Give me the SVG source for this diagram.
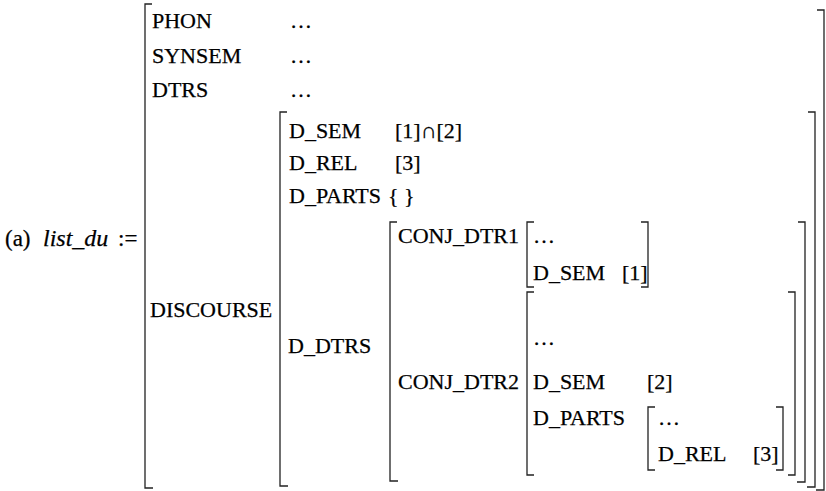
<svg xmlns="http://www.w3.org/2000/svg" width="826" height="491" viewBox="0 0 826 491">
<style>
text{font-family:"Liberation Serif","Times New Roman",serif;font-size:22px;fill:#000;stroke:#000;stroke-width:0.25}
.it{font-style:italic}
.lab{font-size:23px}
.br{fill:none;stroke:#222;stroke-width:1.3}
</style>
<rect width="826" height="491" fill="#fff"/>
<g id="brackets">
<path class="br" d="M152,4H145V488H153"/>
<path class="br" d="M817,10H824V490H816"/>
<path class="br" d="M287,112H280V486H288"/>
<path class="br" d="M808,112H815V487H807"/>
<path class="br" d="M397,222H390V481H398"/>
<path class="br" d="M798,222H805V482H797"/>
<path class="br" d="M534,222H527V287H534"/>
<path class="br" d="M641,222H648V287H641"/>
<path class="br" d="M534,292H527V475H534"/>
<path class="br" d="M788,292H795V475H788"/>
<path class="br" d="M655,407H648V470H655"/>
<path class="br" d="M776,407H783V470H776"/>
</g>
<g id="label">
<text class="lab" x="5" y="246">(a)</text>
<text class="lab it" x="43" y="246" style="font-size:24px">list_du</text>
<text class="lab" x="118" y="246">:=</text>
</g>
<g id="top">
<text x="152" y="28">PHON</text><text x="290" y="28">…</text>
<text x="152" y="63">SYNSEM</text><text x="290" y="63">…</text>
<text x="152" y="97">DTRS</text><text x="290" y="97">…</text>
<text x="150" y="317">DISCOURSE</text>
</g>
<g id="discourse">
<text x="289" y="138">D_SEM</text><text x="395" y="138">[1]∩[2]</text>
<text x="289" y="170">D_REL</text><text x="395" y="170">[3]</text>
<text x="289" y="203">D_PARTS</text><text x="388" y="203">{ }</text>
<text x="288" y="353">D_DTRS</text>
</g>
<g id="conj1">
<text x="398" y="243">CONJ_DTR1</text>
<text x="533" y="243">…</text>
<text x="533" y="280">D_SEM</text><text x="622" y="280">[1]</text>
</g>
<g id="conj2">
<text x="398" y="389">CONJ_DTR2</text>
<text x="533" y="345">…</text>
<text x="533" y="389">D_SEM</text><text x="647" y="389">[2]</text>
<text x="533" y="425">D_PARTS</text><text x="658" y="425">…</text>
<text x="658" y="461">D_REL</text><text x="753" y="461">[3]</text>
</g>
</svg>
